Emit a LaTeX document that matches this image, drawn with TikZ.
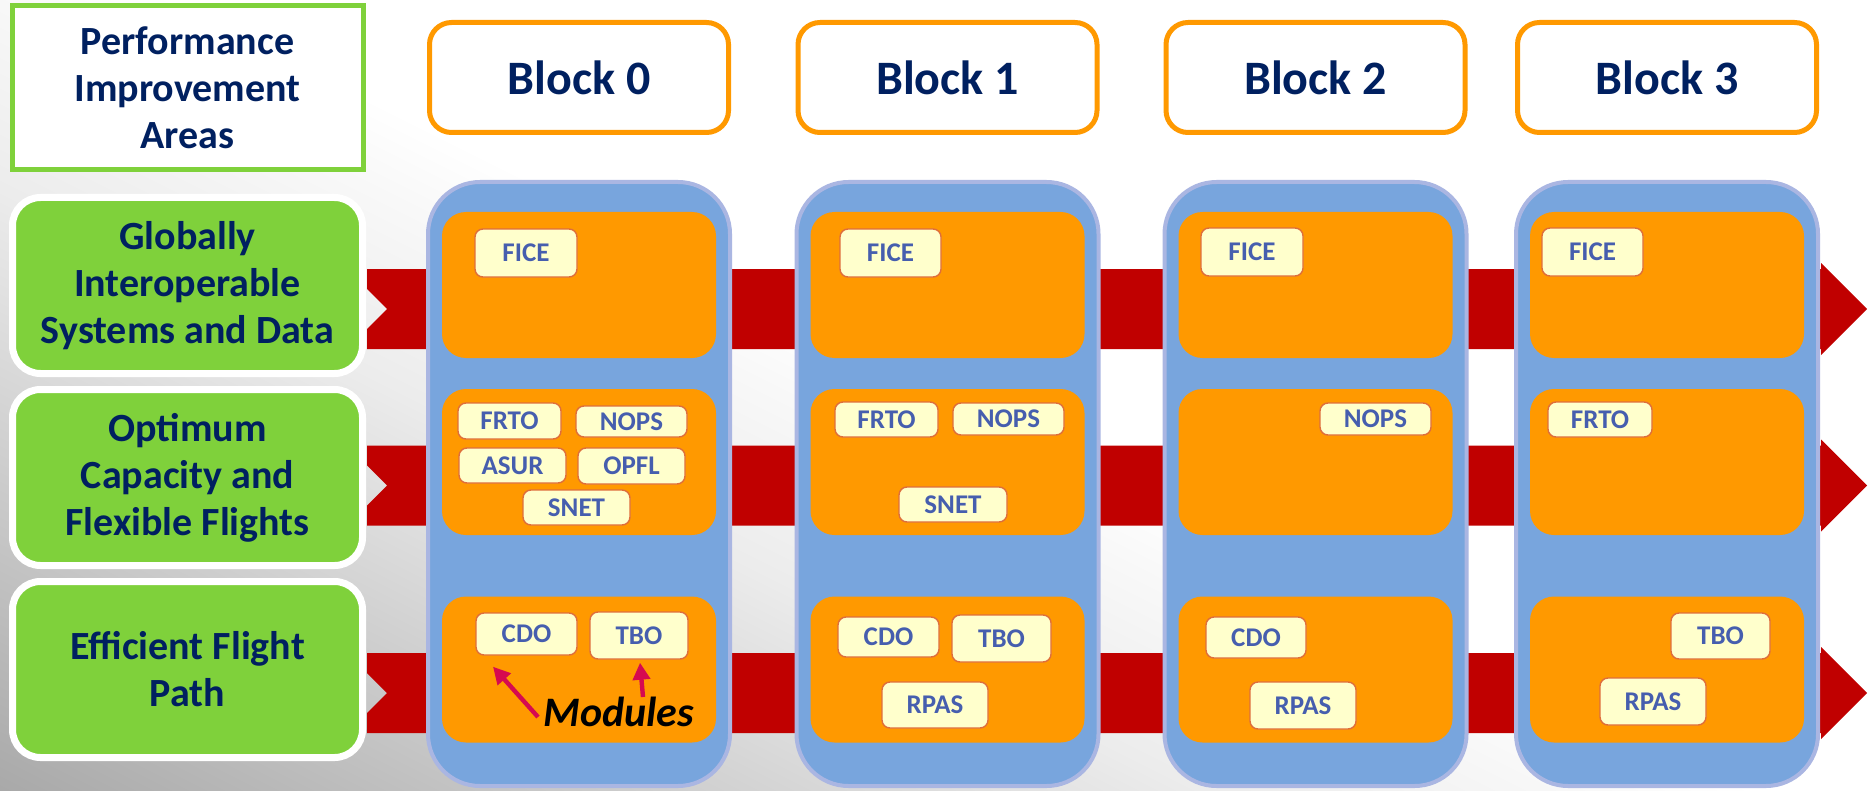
\documentclass[tikz,border=0pt]{standalone}
\usepackage{fontspec}
\setmainfont{Carlito}
\usepackage{xcolor}
\usepackage{tikz}
\usetikzlibrary{arrows.meta,positioning,calc}

\definecolor{navytext}{RGB}{0,32,96}
\definecolor{modtext}{RGB}{70,94,174}
\definecolor{modfill}{RGB}{255,255,204}
\definecolor{modline}{RGB}{222,110,60}
\definecolor{areagreen}{RGB}{127,209,59}
\definecolor{blockorange}{RGB}{255,153,0}
\definecolor{colblue}{RGB}{120,165,221}
\definecolor{colrim}{RGB}{170,182,226}
\definecolor{bandred}{RGB}{192,0,0}
\definecolor{pointred}{RGB}{214,10,80}

\pgfdeclareverticalshading{bgfade}{100bp}{%
  rgb(0bp)=(0.55,0.55,0.55); rgb(25bp)=(0.55,0.55,0.55);
  rgb(33.9bp)=(0.663,0.663,0.663); rgb(39.9bp)=(0.804,0.804,0.804);
  rgb(41.7bp)=(0.847,0.847,0.847); rgb(45.1bp)=(0.925,0.925,0.925);
  rgb(48.6bp)=(0.973,0.973,0.973); rgb(50.3bp)=(1,1,1); rgb(100bp)=(1,1,1)}

\begin{document}
\begin{tikzpicture}[
  x=0.5pt, y=-0.5pt,
  txt/.style={text=navytext, align=center, font=\fontsize{20}{23.5}\selectfont\bfseries},
  areabox/.style={txt, draw=white, line width=3.5pt, fill=areagreen, rounded corners=14pt, minimum width=175pt, minimum height=88pt},
  blockhead/.style={draw=blockorange, line width=2.5pt, fill=white, rounded corners=11pt, minimum width=149.5pt, minimum height=55pt, text=navytext, font=\fontsize{24}{28}\selectfont\bfseries},
  blockcol/.style={draw=colrim, line width=2pt, fill=colblue, rounded corners=26pt, minimum width=151pt, minimum height=302pt},
  areaslot/.style={fill=blockorange, rounded corners=12pt, minimum width=137pt, minimum height=73pt},
  modbox/.style={draw=modline, line width=0.7pt, fill=modfill, rounded corners=4pt, inner sep=0pt, text=modtext, font=\fontsize{13.5}{16}\selectfont\bfseries},
  sz/.style 2 args={minimum width=#1, minimum height=#2},
  pointer/.style={-{Triangle[length=8.5pt,width=8.5pt]}, line width=2.2pt, pointred}
]
\useasboundingbox (0,0) rectangle (1871,791);
\begin{scope}
  \clip (0,0) rectangle (1871,791);
  \shade[shading=bgfade, shading angle=-26.57] (935.5,395.5) ++(-1200,-1200) rectangle ++(2400,2400);
\end{scope}

\foreach \c in {309,485.5,693}
  \fill[bandred] (367,\c-40) -- (1821,\c-40) -- (1821,\c-46) -- (1867,\c) -- (1821,\c+46) -- (1821,\c+40)
    -- (367,\c+40) -- (367,\c+20) -- (387,\c) -- (367,\c-20) -- cycle;

\node[txt, draw=areagreen, line width=2.5pt, fill=white, minimum width=175.5pt, minimum height=82pt] (pia) at (187.5,88) {Performance\\Improvement\\Areas};
\node[areabox] (gisd) at (187.5,285.5) {Globally\\Interoperable\\Systems and Data};
\node[areabox] (ocff) at (187.5,477.5) {Optimum\\Capacity and\\Flexible Flights};
\node[areabox] (efp) at (187.5,669.5) {Efficient Flight\\Path};

\node[blockhead] (head0) at (579,77.5) {Block 0};
\node[blockhead] (head1) at (947.5,77.5) {Block 1};
\node[blockhead] (head2) at (1315.5,77.5) {Block 2};
\node[blockhead] (head3) at (1667,77.5) {Block 3};

\node[blockcol] (col0) at (579,484) {};
\node[blockcol] (col1) at (947.5,484) {};
\node[blockcol] (col2) at (1315.5,484) {};
\node[blockcol] (col3) at (1667,484) {};

\node[areaslot] (slot0a) at (579,285) {};
\node[areaslot] (slot0b) at (579,462) {};
\node[areaslot] (slot0c) at (579,669.5) {};
\node[areaslot] (slot1a) at (947.5,285) {};
\node[areaslot] (slot1b) at (947.5,462) {};
\node[areaslot] (slot1c) at (947.5,669.5) {};
\node[areaslot] (slot2a) at (1315.5,285) {};
\node[areaslot] (slot2b) at (1315.5,462) {};
\node[areaslot] (slot2c) at (1315.5,669.5) {};
\node[areaslot] (slot3a) at (1667,285) {};
\node[areaslot] (slot3b) at (1667,462) {};
\node[areaslot] (slot3c) at (1667,669.5) {};

\node[modbox, sz={51pt}{24pt}] (fice0) at (526,253) {FICE};
\node[modbox, sz={51.5pt}{18pt}] (frto0) at (509.5,421) {FRTO};
\node[modbox, sz={55.5pt}{15.5pt}] (nops0) at (631.5,421.5) {NOPS};
\node[modbox, sz={53.5pt}{17.5pt}] (asur0) at (512.5,465.5) {ASUR};
\node[modbox, sz={53.5pt}{18pt}] (opfl0) at (631.5,466) {OPFL};
\node[modbox, sz={53.5pt}{17.5pt}] (snet0) at (576.5,507.5) {SNET};
\node[modbox, sz={50.5pt}{21pt}] (cdo0) at (526.5,634) {CDO};
\node[modbox, sz={49pt}{23.5pt}] (tbo0) at (639,635.5) {TBO};

\node[modbox, sz={50.5pt}{24pt}] (fice1) at (890.5,253) {FICE};
\node[modbox, sz={51.5pt}{17.5pt}] (frto1) at (886.5,419.5) {FRTO};
\node[modbox, sz={55.5pt}{16pt}] (nops1) at (1008.5,419) {NOPS};
\node[modbox, sz={54pt}{17.5pt}] (snet1) at (953,504.5) {SNET};
\node[modbox, sz={50.5pt}{20pt}] (cdo1) at (888.5,637) {CDO};
\node[modbox, sz={49.5pt}{23.5pt}] (tbo1) at (1001.5,638.5) {TBO};
\node[modbox, sz={53pt}{23pt}] (rpas1) at (935,705) {RPAS};

\node[modbox, sz={51pt}{24pt}] (fice2) at (1252,252) {FICE};
\node[modbox, sz={55.5pt}{16pt}] (nops2) at (1375.5,419) {NOPS};
\node[modbox, sz={50pt}{20.5pt}] (cdo2) at (1256,637.5) {CDO};
\node[modbox, sz={53pt}{23.5pt}] (rpas2) at (1303,705.5) {RPAS};

\node[modbox, sz={50.5pt}{24pt}] (fice3) at (1592.5,252) {FICE};
\node[modbox, sz={52pt}{17.5pt}] (frto3) at (1600,419.5) {FRTO};
\node[modbox, sz={49.5pt}{23pt}] (tbo3) at (1720.5,636) {TBO};
\node[modbox, sz={53pt}{23.5pt}] (rpas3) at (1653,701.5) {RPAS};

\node[anchor=base west, inner sep=0pt, font=\fontsize{21}{24}\selectfont\bfseries\itshape] (mods) at (543,726) {Modules};
\draw[pointer] ([shift={(-2.5pt,4.5pt)}]mods.base west) -- ([shift={(-16.75pt,-5.5pt)}]cdo0.south);
\draw[pointer] ([shift={(50pt,14.5pt)}]mods.base west) -- ([shift={(0.5pt,-1.5pt)}]tbo0.south);
\end{tikzpicture}
\end{document}
